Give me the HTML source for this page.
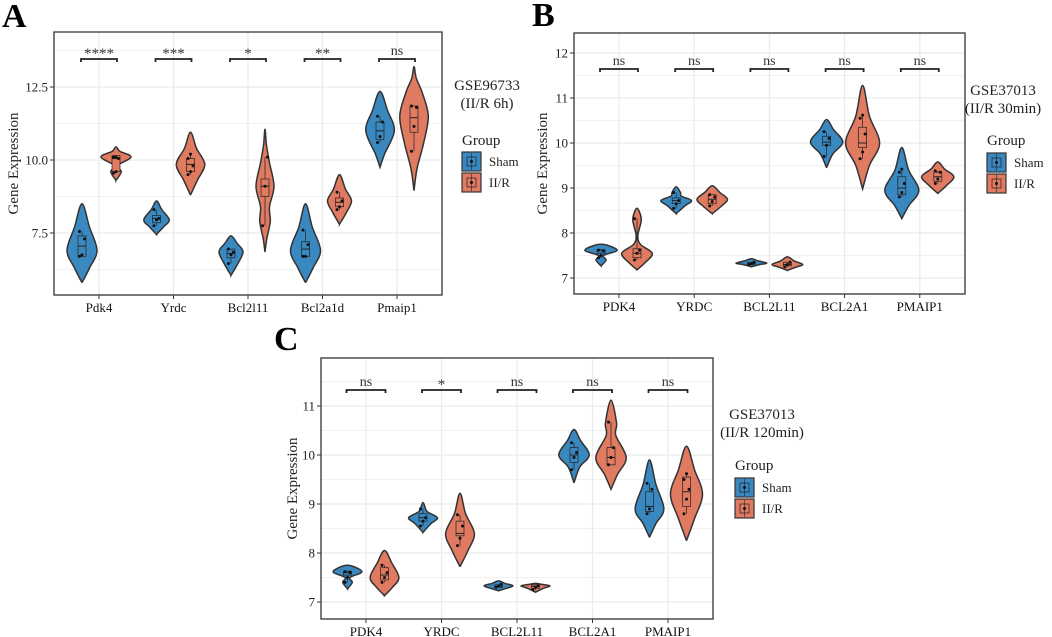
<!DOCTYPE html>
<html><head><meta charset="utf-8"><style>
body{margin:0;background:#fff}
svg{display:block;font-family:"Liberation Serif",serif}
</style></head><body>
<svg id="fig" width="1052" height="637" viewBox="0 0 1052 637"></svg>
<script>
// ---------- DATA ----------
const catsA=['Pdk4','Yrdc','Bcl2l11','Bcl2a1d','Pmaip1'];
const catsBC=['PDK4','YRDC','BCL2L11','BCL2A1','PMAIP1'];
const sigA=['****','***','*','**','ns'];
const sigB=['ns','ns','ns','ns','ns'];
const sigC=['ns','*','ns','ns','ns'];
const ticksA=[7.5,10.0,12.5];
const ticksB=[7,8,9,10,11,12];
const ticksC=[7,8,9,10,11];
// violin knots: [value, relative half-width]
const shamA=[
 [[5.8,0],[6.3,.5],[6.9,1],[7.7,.5],[8.5,0]],
 [[7.45,0],[7.7,.45],[7.95,.85],[8.3,.35],[8.6,0]],
 [[6.05,0],[6.4,.4],[6.85,.8],[7.15,.4],[7.4,0]],
 [[5.8,0],[6.3,.5],[6.9,1],[7.7,.45],[8.5,0]],
 [[9.75,0],[10.2,.3],[11.0,.95],[11.7,.5],[12.35,0]]];
const irA=[
 [[9.3,0],[9.6,.35],[9.8,.08],[10.1,1],[10.3,.25],[10.45,0]],
 [[8.8,0],[9.3,.45],[9.85,.95],[10.4,.4],[10.95,0]],
 [[6.85,0],[7.3,.12],[7.9,.35],[8.4,.3],[9.1,.6],[9.9,.3],[10.5,.1],[11.05,0]],
 [[7.8,0],[8.2,.45],[8.6,.8],[9.0,.4],[9.5,0]],
 [[8.95,0],[9.7,.2],[10.6,.65],[11.5,.95],[12.3,.55],[12.8,.15],[13.2,0]]];
const boxShamA=[[6.7,7.05,7.4],[7.85,8.0,8.1],[6.65,6.8,6.95],[6.7,6.95,7.2],[10.7,11.0,11.3]];
const boxIrA=[[9.6,10.05,10.15],[9.6,9.85,10.05],[8.75,9.1,9.35],[8.4,8.55,8.7],[10.95,11.45,11.85]];
const ptsShamA=[[6.7,6.75,7.3,7.55],[7.75,7.95,8.0,8.3],[6.45,6.75,6.85,6.95],[6.7,6.7,7.1,7.6],[10.6,10.8,11.3,11.5]];
const ptsIrA=[[9.55,9.6,10.05,10.1,10.1],[9.5,9.6,9.8,10.05,10.2],[7.75,9.1,10.1],[8.3,8.4,8.6,8.9],[10.3,11.15,11.8,11.85]];

const shamB=[
 [[7.27,0],[7.4,.3],[7.5,.15],[7.62,.95],[7.75,0]],
 [[8.43,0],[8.6,.5],[8.72,.9],[8.82,.3],[8.9,.25],[9.03,0]],
 [[7.25,0],[7.3,.5],[7.33,.9],[7.38,.4],[7.43,0]],
 [[9.45,0],[9.75,.35],[10.02,.95],[10.3,.4],[10.52,0]],
 [[8.32,0],[8.6,.4],[8.95,1],[9.4,.4],[9.9,0]]];
const irB=[
 [[7.18,0],[7.35,.5],[7.55,.9],[7.75,.2],[7.95,.05],[8.3,.25],[8.55,0]],
 [[8.43,0],[8.6,.55],[8.75,.9],[8.9,.45],[9.05,0]],
 [[7.17,0],[7.24,.5],[7.3,.9],[7.38,.4],[7.47,0]],
 [[8.98,0],[9.5,.4],[10.0,1],[10.6,.4],[11.28,0]],
 [[8.88,0],[9.05,.5],[9.25,.95],[9.42,.4],[9.58,0]]];
const boxShamB=[[7.55,7.6,7.63],[8.65,8.72,8.78],[7.3,7.32,7.35],[9.95,10.02,10.15],[8.85,9.0,9.25]];
const boxIrB=[[7.45,7.55,7.65],[8.65,8.75,8.85],[7.27,7.3,7.35],[9.9,10.0,10.35],[9.15,9.25,9.35]];
const ptsShamB=[[7.45,7.5,7.6,7.62],[8.55,8.65,8.72,8.9],[7.3,7.32,7.35],[9.7,9.95,10.1,10.25],[8.8,8.9,9.1,9.35,9.42]];
const ptsIrB=[[7.4,7.55,7.62,8.32],[8.6,8.7,8.8,8.85],[7.25,7.3,7.35],[9.65,9.8,10.2,10.55,10.62],[9.1,9.2,9.35,9.38]];

const shamC=[
 [[7.27,0],[7.4,.3],[7.5,.15],[7.62,.9],[7.75,0]],
 [[8.42,0],[8.6,.5],[8.72,.9],[8.85,.25],[9.03,0]],
 [[7.23,0],[7.28,.5],[7.33,.9],[7.38,.4],[7.43,0]],
 [[9.43,0],[9.75,.35],[10.0,.95],[10.3,.4],[10.52,0]],
 [[8.32,0],[8.6,.4],[8.9,.9],[9.4,.4],[9.9,0]]];
const irC=[
 [[7.13,0],[7.3,.5],[7.5,.9],[7.8,.45],[8.05,0]],
 [[7.72,0],[8.05,.5],[8.4,.9],[8.8,.35],[9.22,0]],
 [[7.2,0],[7.28,.5],[7.33,.9],[7.36,.4],[7.38,0]],
 [[9.3,0],[9.6,.4],[9.95,.95],[10.4,.3],[10.65,.35],[11.12,0]],
 [[8.25,0],[8.7,.5],[9.2,1],[9.7,.5],[10.18,0]]];
const boxShamC=[[7.55,7.6,7.63],[8.65,8.72,8.8],[7.3,7.32,7.35],[9.85,10.0,10.15],[8.85,8.95,9.25]];
const boxIrC=[[7.45,7.55,7.7],[8.35,8.4,8.65],[7.28,7.32,7.35],[9.8,9.95,10.15],[8.95,9.25,9.55]];
const ptsShamC=[[7.4,7.5,7.6,7.62],[8.55,8.65,8.72,8.9],[7.3,7.33,7.36],[9.7,9.95,10.05,10.25],[8.8,8.9,9.3,9.42]];
const ptsIrC=[[7.4,7.5,7.6,7.75],[8.15,8.3,8.55,8.78],[7.25,7.3,7.33],[9.8,9.95,10.15,10.67],[8.8,9.1,9.3,9.5,9.62]];

// ---------- RENDER ----------
const NS='http://www.w3.org/2000/svg';
const svg=document.getElementById('fig');
function mk(tag,attrs,parent){const e=document.createElementNS(NS,tag);for(const k in attrs)e.setAttribute(k,attrs[k]);(parent||svg).appendChild(e);return e;}
const BLUE='#3a88c0',RED='#e07a60';
function smooth(pts){let d='M'+pts[0][0]+','+pts[0][1];const n=pts.length;
 for(let i=0;i<n-1;i++){const p0=pts[Math.max(i-1,0)],p1=pts[i],p2=pts[i+1],p3=pts[Math.min(i+2,n-1)];
  const c1=[p1[0]+(p2[0]-p0[0])/6,p1[1]+(p2[1]-p0[1])/6],c2=[p2[0]-(p3[0]-p1[0])/6,p2[1]-(p3[1]-p1[1])/6];
  d+=' C'+c1[0].toFixed(1)+','+c1[1].toFixed(1)+' '+c2[0].toFixed(1)+','+c2[1].toFixed(1)+' '+p2[0].toFixed(1)+','+p2[1].toFixed(1);}
 return d;}
function panel(P){
 const g=mk('g',{});
 
 
 const ys=v=>P.y0+(v-P.v0)*(P.y1-P.y0)/(P.v1-P.v0);
 const xs=i=>P.x0+P.cx0+i*P.dx;
 mk('rect',{x:P.left,y:P.top,width:P.right-P.left,height:P.bottom-P.top,fill:'#fff'},g);
 const step=P.ticks[1]-P.ticks[0];
 for(let v=P.ticks[0]-step/2;v<=P.v1+10;v+=step/2){const y=ys(v);if(y<P.top||y>P.bottom)continue;
  const major=P.ticks.some(t=>Math.abs(t-v)<1e-6);
  const l=mk('line',{x1:P.left,x2:P.right,y1:y,y2:y,stroke:'#ebebeb','stroke-width':major?1.3:0.7},g);
  }
 P.cats.forEach((c,i)=>mk('line',{x1:xs(i),x2:xs(i),y1:P.top,y2:P.bottom,stroke:'#ebebeb','stroke-width':1.3},g));
 P.ticks.forEach(t=>{const y=ys(t);
  mk('line',{x1:P.left-4,x2:P.left,y1:y,y2:y,stroke:'#333'},g);
  const tx=mk('text',{x:P.left-6,y:y+4.5,'text-anchor':'end','font-size':13,fill:'#222'},g);
  tx.textContent=P.tickFmt(t);
  });
 P.cats.forEach((c,i)=>{mk('line',{x1:xs(i),x2:xs(i),y1:P.bottom,y2:P.bottom+4,stroke:'#333'},g);
  const tx=mk('text',{x:xs(i),y:P.bottom+17,'text-anchor':'middle','font-size':13,fill:'#111'},g);tx.textContent=c;
  });
 const groups=[[P.sham,P.boxSham,P.ptsSham,BLUE,-1],[P.ir,P.boxIr,P.ptsIr,RED,1]];
 P.cats.forEach((c,i)=>{groups.forEach(([V,B,Pt,col,sgn])=>{
  const xc=xs(i)+sgn*P.dodge;
  const kn=V[i];
  const right=kn.map(k=>[xc+k[1]*P.hw,ys(k[0])]);
  const left=kn.slice().reverse().map(k=>[xc-k[1]*P.hw,ys(k[0])]);
  const all=right.concat(left.slice(1));
  const p=mk('path',{d:smooth(all)+' Z',fill:col,stroke:'#333','stroke-width':1.5},g);
  
  const pts=Pt[i],mn=Math.min(...pts),mx=Math.max(...pts);
  mk('line',{x1:xc,x2:xc,y1:ys(mn),y2:ys(mx),stroke:'#222','stroke-width':0.7},g);
  const bx=B[i];
  const r=mk('rect',{x:xc-4,y:ys(bx[2]),width:8,height:Math.max(1,ys(bx[0])-ys(bx[2])),fill:col,stroke:'#222','stroke-width':0.7},g);
  
  mk('line',{x1:xc-4,x2:xc+4,y1:ys(bx[1]),y2:ys(bx[1]),stroke:'#222','stroke-width':1},g);
  pts.forEach((v,j)=>{const d=mk('circle',{cx:xc+((j%3)-1)*2.5,cy:ys(v),r:1.5,fill:'#111'},g);
   });
 });
  const bl=xs(i)-P.dodge-1,br=xs(i)+P.dodge+1,by=P.brY;
  const b=mk('path',{d:`M${bl},${by+3}V${by}H${br}V${by+3}`,fill:'none',stroke:'#222','stroke-width':1.8},g);
  
  const st=mk('text',{x:xs(i),y:P.sig[i]==='ns'?by-4:by-1,'text-anchor':'middle','font-size':P.sig[i]==='ns'?14:15,fill:'#333'},g);
  st.textContent=P.sig[i];
 });
 mk('rect',{x:P.left,y:P.top,width:P.right-P.left,height:P.bottom-P.top,fill:'none',stroke:'#333','stroke-width':1.3},g);
 const yt=mk('text',{x:P.ylabX,y:(P.top+P.bottom)/2,'text-anchor':'middle','font-size':15,fill:'#222',transform:`rotate(-90 ${P.ylabX} ${(P.top+P.bottom)/2})`},g);
 yt.textContent='Gene Expression';
 const L=P.leg;
 const t1=mk('text',{x:L.cx,y:L.t1y,'text-anchor':'middle','font-size':15,fill:'#222'},g);t1.textContent=L.title1;
 
 const t2=mk('text',{x:L.cx,y:L.t1y+18,'text-anchor':'middle','font-size':15,fill:'#222'},g);t2.textContent=L.title2;
 
 const gt=mk('text',{x:L.kx,y:L.gy,'font-size':15,fill:'#222'},g);gt.textContent='Group';
 
 [['Sham',BLUE],['II/R',RED]].forEach(([lab,col],k)=>{const y=L.ky+k*21;
  const kr=mk('rect',{x:L.kx,y:y,width:19,height:19,fill:col,stroke:'#333','stroke-width':1.2},g);
  
  mk('rect',{x:L.kx+5,y:y+5,width:9,height:9,fill:'none',stroke:'#222','stroke-width':0.7},g);
  mk('line',{x1:L.kx+9.5,x2:L.kx+9.5,y1:y+1,y2:y+18,stroke:'#222','stroke-width':0.6},g);
  mk('circle',{cx:L.kx+9.5,cy:y+9.5,r:1.5,fill:'#111'},g);
  const lt=mk('text',{x:L.kx+27,y:y+14,'font-size':13,fill:'#222'},g);lt.textContent=lab;
  });
 const pl=mk('text',{x:P.letter[0],y:P.letter[1],'font-size':34,'font-weight':'bold',fill:'#000'},g);
 pl.textContent=P.letterT;
}
panel({name:'panel-a',left:54,right:442,top:32,bottom:295,x0:0,cx0:99,dx:74.5,dodge:17,hw:15,
 y0:160,y1:87,v0:10,v1:12.5,ticks:ticksA,tickFmt:t=>t.toFixed(1),cats:catsA,sig:sigA,brY:59,
 sham:shamA,ir:irA,boxSham:boxShamA,boxIr:boxIrA,ptsSham:ptsShamA,ptsIr:ptsIrA,ylabX:18,
 leg:{cx:487,t1y:90,title1:'GSE96733',title2:'(II/R 6h)',kx:462,gy:145,ky:152},letter:[2,27],letterT:'A'});
panel({name:'panel-b',left:574,right:965,top:33,bottom:294,x0:0,cx0:619,dx:75.2,dodge:18,hw:17,
 y0:278,y1:53,v0:7,v1:12,ticks:ticksB,tickFmt:t=>String(t),cats:catsBC,sig:sigB,brY:69,
 sham:shamB,ir:irB,boxSham:boxShamB,boxIr:boxIrB,ptsSham:ptsShamB,ptsIr:ptsIrB,ylabX:547,
 leg:{cx:1003,t1y:95,title1:'GSE37013',title2:'(II/R 30min)',kx:987,gy:145,ky:153},letter:[532,26],letterT:'B'});
panel({name:'panel-c',left:321,right:713,top:358,bottom:619,x0:0,cx0:366,dx:75.5,dodge:18.5,hw:16,
 y0:602,y1:406,v0:7,v1:11,ticks:ticksC,tickFmt:t=>String(t),cats:catsBC,sig:sigC,brY:390,
 sham:shamC,ir:irC,boxSham:boxShamC,boxIr:boxIrC,ptsSham:ptsShamC,ptsIr:ptsIrC,ylabX:297,
 leg:{cx:762,t1y:419,title1:'GSE37013',title2:'(II/R 120min)',kx:735,gy:470,ky:478},letter:[274,350],letterT:'C'});
</script>
</body></html>
